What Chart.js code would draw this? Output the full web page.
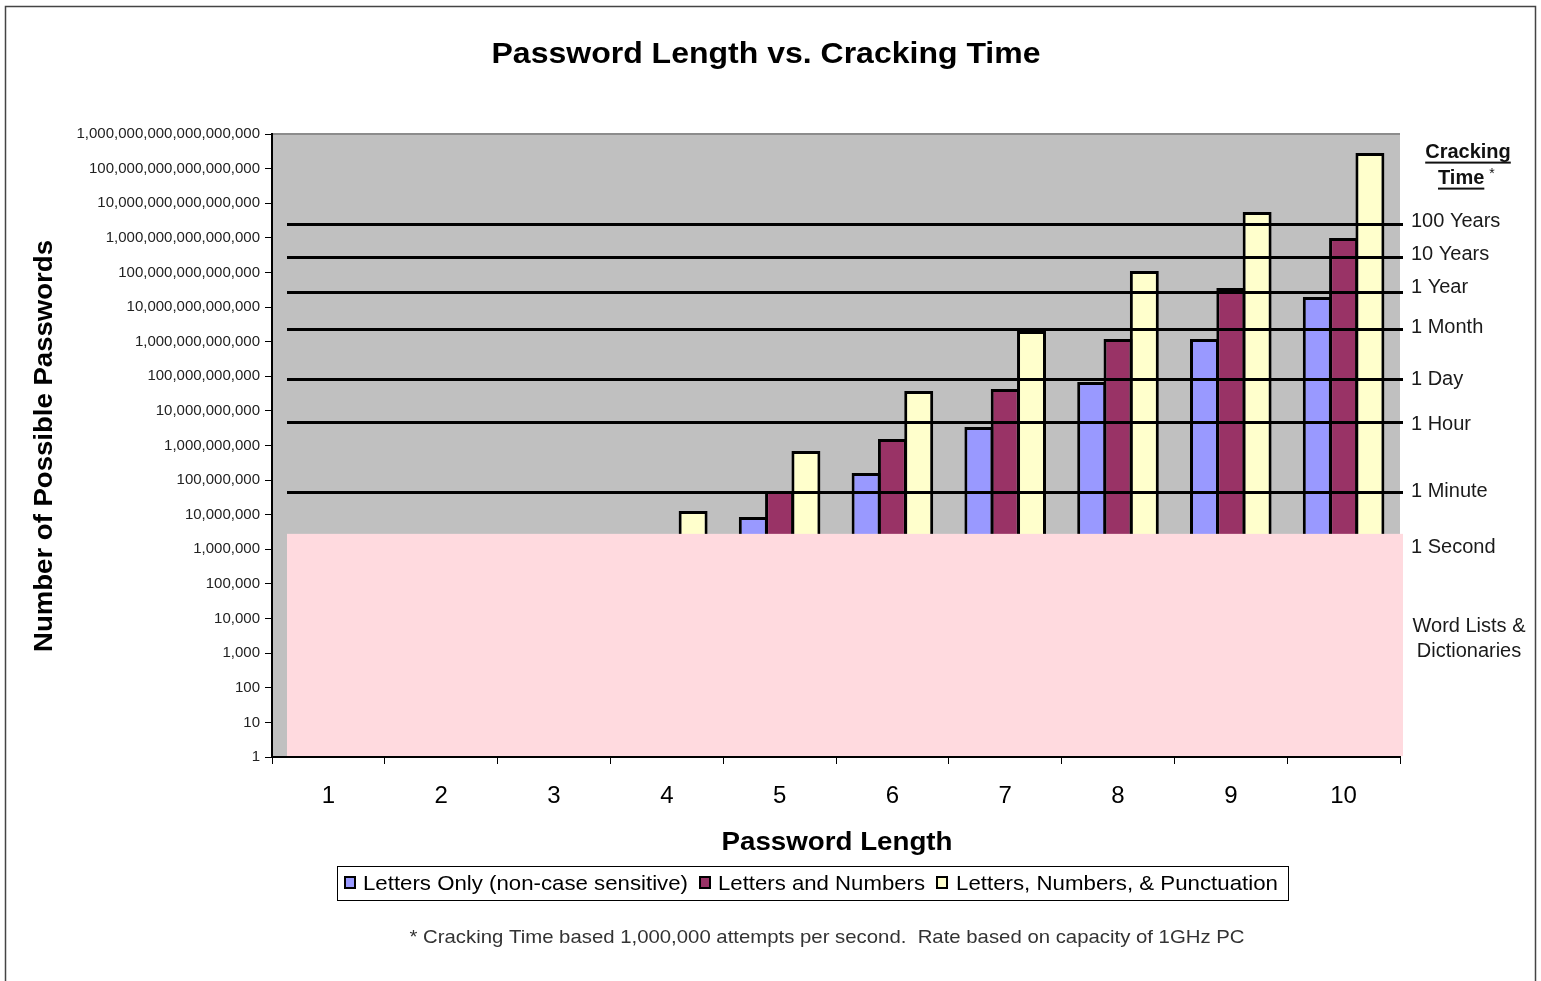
<!DOCTYPE html>
<html>
<head>
<meta charset="utf-8">
<title>Password Length vs. Cracking Time</title>
<script src="https://cdn.jsdelivr.net/npm/chart.js@4.4.1/dist/chart.umd.min.js"></script>
<style>
  html, body { margin: 0; padding: 0; background: #fff; }
  canvas { display: block; }
</style>
</head>
<body>
<canvas id="chart" width="1541" height="981"></canvas>
<script>
// Chart data
const categories = ['1', '2', '3', '4', '5', '6', '7', '8', '9', '10'];
const seriesNames = ['Letters Only (non-case sensitive)', 'Letters and Numbers', 'Letters, Numbers, & Punctuation'];
const lettersOnly = [26, 676, 17576, 456976, 8.6e6, 1.6e8, 3.4e9, 6.8e10, 1.19e12, 1.96e13];
const lettersNumbers = [36, 1296, 46656, 1.68e6, 4.85e7, 1.54e9, 4.3e10, 1.19e12, 3.56e13, 9.9e14];
const lettersNumbersPunct = [62, 3844, 238328, 1.28e7, 6.9e8, 3.76e10, 2.04e12, 1.1e14, 5.6e15, 2.83e17];
const yTickValues = [1, 10, 100, 1e3, 1e4, 1e5, 1e6, 1e7, 1e8, 1e9, 1e10, 1e11, 1e12, 1e13, 1e14, 1e15, 1e16, 1e17, 1e18];
const crackLabels = ['100 Years', '10 Years', '1 Year', '1 Month', '1 Day', '1 Hour', '1 Minute', '1 Second'];
const crackValues = [2.5e15, 2.8e14, 2.7e13, 2.3e12, 8.3e10, 4.8e9, 4.5e7, 2.8e6];

const FONT = "'Liberation Sans', Arial, sans-serif";
const COLORS = ['#9999FF', '#993366', '#FFFFCC'];

// label nudges next to the cracking time lines (px)
const labelNudge = [-3, -2, -5, -2, 0, 3, -1, 14];

function underlinedText(ctx, text, x, y, size) {
    ctx.fillText(text, x, y);
    const w = ctx.measureText(text).width;
    ctx.fillRect(x, y + size * 0.48, w, 2);
    return w;
}

// draw text squeezed/stretched horizontally to a given width (the Excel fonts run a bit wider)
function fitText(ctx, text, x, y, width) {
    const w = ctx.measureText(text).width;
    ctx.save();
    ctx.translate(x, y);
    ctx.scale(width / w, 1);
    ctx.fillText(text, 0, 0);
    ctx.restore();
}

const decor = {
    id: 'decor',
    beforeDraw(chart) {
        const { ctx, chartArea: a } = chart;
        ctx.save();
        ctx.fillStyle = '#fff';
        ctx.fillRect(0, 0, chart.width, chart.height);
        // outer chart frame
        ctx.strokeStyle = '#444';
        ctx.lineWidth = 1.5;
        ctx.beginPath();
        ctx.moveTo(5.5, 990);
        ctx.lineTo(5.5, 6.5);
        ctx.lineTo(1535.5, 6.5);
        ctx.lineTo(1535.5, 990);
        ctx.stroke();
        // plot area
        ctx.fillStyle = '#C0C0C0';
        ctx.fillRect(a.left, a.top, a.right - a.left, a.bottom - a.top);
        ctx.fillStyle = '#8c8c8c';
        ctx.fillRect(a.left, a.top - 1, a.right - a.left, 2);
        ctx.restore();
    },
    afterDatasetsDraw(chart) {
        const { ctx, chartArea: a, scales: { y } } = chart;
        const x0 = a.left + 15, x1 = a.right + 3;
        ctx.save();
        // word list / dictionary zone (below 1 second)
        const secTop = y.getPixelForValue(crackValues[crackValues.length - 1]);
        ctx.fillStyle = '#FFDADF';
        ctx.fillRect(x0, secTop, x1 - x0, a.bottom - 1 - secTop);
        // x axis line again, on top of the bar bases
        ctx.fillStyle = '#000';
        ctx.fillRect(a.left, a.bottom - 1, a.right - a.left, 2);
        // cracking time lines
        ctx.strokeStyle = '#000';
        ctx.lineWidth = 3;
        crackValues.slice(0, -1).forEach(v => {
            const py = Math.round(y.getPixelForValue(v)) + 0.5;
            ctx.beginPath();
            ctx.moveTo(x0, py);
            ctx.lineTo(x1, py);
            ctx.stroke();
        });
        ctx.restore();
    },
    afterDraw(chart) {
        const { ctx, chartArea: a, scales: { y } } = chart;
        ctx.save();
        ctx.textBaseline = 'middle';

        // title
        ctx.fillStyle = '#000';
        ctx.textAlign = 'center';
        ctx.font = 'bold 30px ' + FONT;
        fitText(ctx, 'Password Length vs. Cracking Time', 766, 55, 549);

        // axis titles
        ctx.font = 'bold 26px ' + FONT;
        fitText(ctx, 'Password Length', 837, 843, 231);
        ctx.save();
        ctx.translate(45, 446);
        ctx.rotate(-Math.PI / 2);
        ctx.font = 'bold 25px ' + FONT;
        fitText(ctx, 'Number of Possible Passwords', 0, 0, 412);
        ctx.restore();

        // cracking time header
        ctx.fillStyle = '#111';
        ctx.font = 'bold 20px ' + FONT;
        ctx.textAlign = 'left';
        const cw = ctx.measureText('Cracking').width;
        underlinedText(ctx, 'Cracking', 1468 - cw / 2, 152, 20);
        const tw = underlinedText(ctx, 'Time', 1438, 178, 20);
        ctx.font = '14px ' + FONT;
        ctx.fillText('*', 1438 + tw + 5, 174);

        // cracking time labels
        ctx.font = '20px ' + FONT;
        ctx.fillStyle = '#1a1a1a';
        crackLabels.forEach((t, i) => {
            ctx.fillText(t, a.right + 11, y.getPixelForValue(crackValues[i]) + labelNudge[i]);
        });
        ctx.textAlign = 'center';
        ctx.fillText('Word Lists &', 1469, 626);
        ctx.fillText('Dictionaries', 1469, 651);

        // legend
        ctx.strokeStyle = '#000';
        ctx.lineWidth = 1;
        ctx.strokeRect(337.5, 866.5, 951, 34);
        const items = [[344, 363, 325], [699, 718, 207], [936, 956, 322]];
        ctx.textAlign = 'left';
        ctx.font = '21px ' + FONT;
        items.forEach(([sx, tx, w], i) => {
            ctx.fillStyle = COLORS[i];
            ctx.fillRect(sx, 876, 12, 13);
            ctx.lineWidth = 2;
            ctx.strokeRect(sx + 1, 877, 10, 11);
            ctx.fillStyle = '#000';
            fitText(ctx, seriesNames[i], tx, 884, w);
        });

        // footnote
        ctx.fillStyle = '#333';
        ctx.textAlign = 'center';
        ctx.font = '19px ' + FONT;
        fitText(ctx, '* Cracking Time based 1,000,000 attempts per second.  Rate based on capacity of 1GHz PC', 827, 938, 835);
        ctx.restore();
    }
};

const ctx = document.getElementById('chart').getContext('2d');
new Chart(ctx, {
    type: 'bar',
    data: {
        labels: categories,
        datasets: [lettersOnly, lettersNumbers, lettersNumbersPunct].map((d, i) => ({
            label: seriesNames[i],
            data: d,
            backgroundColor: COLORS[i],
            borderColor: '#000',
            borderWidth: 3,
            borderSkipped: 'start',
            barPercentage: 1.1,
            categoryPercentage: 0.7
        }))
    },
    options: {
        responsive: false,
        animation: false,
        devicePixelRatio: 1,
        layout: { padding: { left: 5, right: 141, top: 134, bottom: 0 } },
        plugins: {
            legend: { display: false },
            title: { display: false },
            tooltip: { enabled: false }
        },
        scales: {
            x: {
                type: 'category',
                offset: true,
                afterFit: s => { s.height = 224; },
                grid: { offset: true, drawOnChartArea: false, tickLength: 7, color: '#000', lineWidth: 1 },
                border: { color: '#000', width: 2 },
                ticks: { font: { family: FONT, size: 24 }, color: '#000', padding: 18, maxRotation: 0 }
            },
            y: {
                type: 'logarithmic',
                min: 1,
                max: 1e18,
                afterBuildTicks: s => { s.ticks = yTickValues.map(v => ({ value: v })); },
                afterFit: s => { s.width = 267; },
                grid: { drawOnChartArea: false, tickLength: 7, color: '#000', lineWidth: 1 },
                border: { color: '#000', width: 2 },
                ticks: {
                    font: { family: FONT, size: 15 },
                    color: '#222',
                    padding: 5,
                    autoSkip: false,
                    callback: v => Number(v).toLocaleString('en-US')
                }
            }
        }
    },
    plugins: [decor]
});
</script>
</body>
</html>
